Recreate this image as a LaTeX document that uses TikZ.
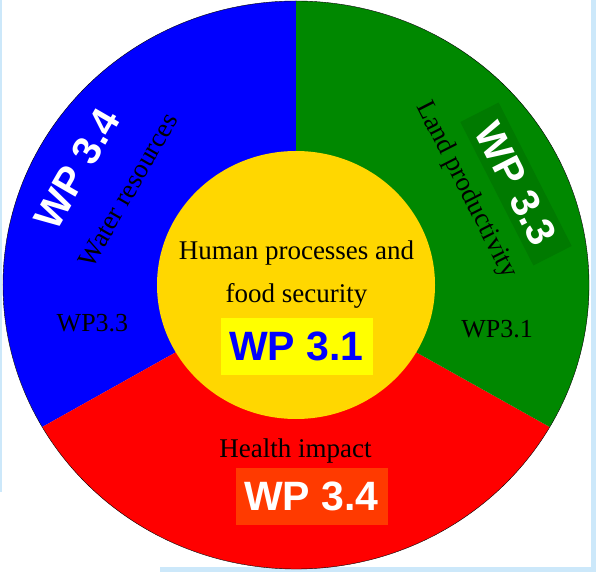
\documentclass[tikz,border=0pt]{standalone}
\usepackage{fontspec}
\setmainfont{Liberation Serif}
\setsansfont{Liberation Sans}
\usetikzlibrary{positioning}
\definecolor{waterblue}{HTML}{0000FF}
\definecolor{landgreen}{HTML}{008800}
\definecolor{landbox}{HTML}{007A00}
\definecolor{healthred}{HTML}{FF0000}
\definecolor{healthbox}{HTML}{FF3A00}
\definecolor{foodgold}{HTML}{FFD700}
\definecolor{foodbox}{HTML}{FFFF00}
\definecolor{framecol}{HTML}{CCE8FA}
\tikzset{x=1pt, y=1pt,
    theme/.style={
        font=\fontsize{27}{43}\selectfont,
        inner sep=0pt},
    wpbox/.style={
        font=\fontsize{41}{46}\selectfont\sffamily\bfseries,
        inner sep=0pt,
        minimum width=152,
        minimum height=57},
    wplabel/.style={
        font=\fontsize{40}{46}\selectfont\sffamily\bfseries,
        text=white,
        inner sep=0pt}}

\begin{document}
\begin{tikzpicture}
        \useasboundingbox (-296,-287) rectangle (300,285);
        \fill[framecol] (-296,285) rectangle (-294,-207);
        \fill[framecol] (295,285) rectangle (300,-283);
        \fill[framecol] (-136,-282) rectangle (300,-287);

        \fill[waterblue] (0,0) -- (90:293 and 284) arc[start angle=90, end angle=210, x radius=293, y radius=284] -- cycle;
        \fill[healthred] (0,0) -- (210:293 and 284) arc[start angle=210, end angle=330, x radius=293, y radius=284] -- cycle;
        \fill[landgreen] (0,0) -- (330:293 and 284) arc[start angle=-30, end angle=90, x radius=293, y radius=284] -- cycle;
        \draw[thin] (0,0) ellipse[x radius=293, y radius=284];
        \fill[foodgold] (0,0) ellipse[x radius=139, y radius=134];

        \node[theme, align=center] (human) at (0.5,10.5) {Human processes and\\food security};
        \node[wpbox, fill=foodbox, text=waterblue, below=9pt of human] (wp31) {WP 3.1};

        \node[theme, anchor=base] (health) at (-0.5,-172) {Health impact};
        \node[wpbox, fill=healthbox, text=white, below=5pt of health, xshift=16] (wp34b) {WP 3.4};

        \node[theme, rotate=60] (water) at (-168,95) {Water resources};
        \node[wplabel, rotate=60] (wp34a) at (-219,116) {WP 3.4};
        \node[theme, anchor=base, font=\fontsize{26}{30}\selectfont] (wp33s) at (-203.5,-47) {WP3.3};

        \node[theme, rotate=-63] (land) at (170,95) {Land productivity};
        \node[wplabel, fill=landbox, rotate=-63, minimum width=161, minimum height=43] (wp33) at (220,101) {WP 3.3};
        \node[theme, anchor=base, font=\fontsize{26}{30}\selectfont] (wp31s) at (201,-53) {WP3.1};
\end{tikzpicture}
\end{document}
